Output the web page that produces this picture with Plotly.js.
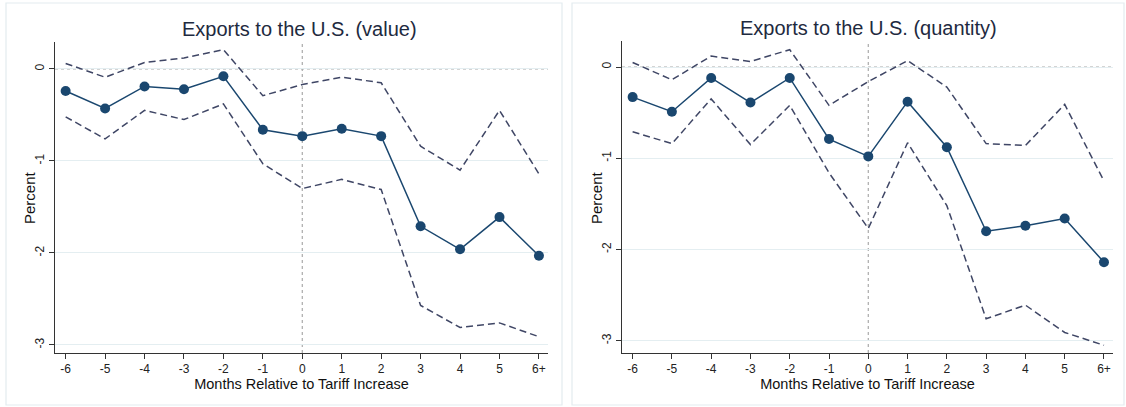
<!DOCTYPE html>
<html>
<head>
<meta charset="utf-8">
<script src="https://cdn.plot.ly/plotly-3.0.1.min.js"></script>
<style>
  html, body { margin: 0; padding: 0; background: #ffffff; }
  #chart { width: 1126px; height: 407px; }
</style>
</head>
<body>
<div id="chart"></div>
<script>
// Event-study months and their tick labels
const months = [-6, -5, -4, -3, -2, -1, 0, 1, 2, 3, 4, 5, 6];
const monthLabels = ["-6", "-5", "-4", "-3", "-2", "-1", "0", "1", "2", "3", "4", "5", "6+"];

// Exports to the U.S. (value): point estimates and 95% bands, percent
const valueEst   = [-0.24, -0.43, -0.19, -0.22, -0.08, -0.66, -0.73, -0.65, -0.73, -1.71, -1.96, -1.61, -2.03];
const valueUpper = [0.06, -0.09, 0.07, 0.12, 0.21, -0.29, -0.17, -0.09, -0.15, -0.84, -1.10, -0.45, -1.14];
const valueLower = [-0.52, -0.76, -0.45, -0.55, -0.38, -1.03, -1.30, -1.20, -1.31, -2.57, -2.81, -2.76, -2.91];

// Exports to the U.S. (quantity): point estimates and 95% bands, percent
const qtyEst   = [-0.33, -0.49, -0.12, -0.39, -0.12, -0.79, -0.98, -0.38, -0.88, -1.80, -1.74, -1.66, -2.14];
const qtyUpper = [0.05, -0.14, 0.12, 0.06, 0.19, -0.42, -0.16, 0.07, -0.22, -0.84, -0.86, -0.41, -1.25];
const qtyLower = [-0.71, -0.84, -0.35, -0.85, -0.42, -1.16, -1.77, -0.83, -1.52, -2.76, -2.61, -2.91, -3.05];

const yTicks = [-3, -2, -1, 0];
const yTickLabels = ["-3", "-2", "-1", "0"];

const navy = "#1a476f";
const bandColor = "#3f4665";
const font = "Liberation Sans, Arial, sans-serif";

function panel(est, upper, lower, xa, ya) {
  const band = (vals) => ({
    x: months, y: vals, xaxis: xa, yaxis: ya, type: "scatter", mode: "lines",
    line: { color: bandColor, width: 1.5, dash: "7px,4px" },
    hoverinfo: "skip", showlegend: false
  });
  return [
    band(upper),
    band(lower),
    {
      x: months, y: est, xaxis: xa, yaxis: ya, type: "scatter", mode: "lines+markers",
      line: { color: navy, width: 1.5 },
      marker: { color: navy, size: 10, symbol: "circle" },
      hoverinfo: "skip", showlegend: false
    }
  ];
}

const data = [].concat(
  panel(valueEst, valueUpper, valueLower, "x", "y"),
  panel(qtyEst, qtyUpper, qtyLower, "x2", "y2")
);

function xAxis(domain, anchor) {
  return {
    domain: domain, anchor: anchor, range: [-6.27, 6.23],
    tickmode: "array", tickvals: months, ticktext: monthLabels,
    ticks: "outside", ticklen: 5, tickcolor: "#333", tickwidth: 1,
    tickfont: { family: font, size: 12, color: "#222" },
    showline: true, linecolor: "#333", linewidth: 1,
    showgrid: false, zeroline: false,
    title: { text: "Months Relative to Tariff Increase", font: { family: font, size: 14.5, color: "#111" }, standoff: 0 }
  };
}

function yAxis(domain, anchor, range) {
  return {
    domain: domain, anchor: anchor, range: range,
    tickmode: "array", tickvals: yTicks, ticktext: yTickLabels, tickangle: -90,
    ticks: "outside", ticklen: 5, tickcolor: "#333", tickwidth: 1,
    tickfont: { family: font, size: 12, color: "#222" },
    showline: true, linecolor: "#333", linewidth: 1,
    showgrid: true, gridcolor: "#e4eef1", gridwidth: 1, zeroline: false
  };
}

function refLines(xa, ya) {
  return [
    { type: "line", xref: xa + " domain", yref: ya, x0: 0, x1: 1, y0: 0, y1: 0,
      line: { color: "#aaaaaa", width: 1.2, dash: "3px,3px" }, layer: "below" },
    { type: "line", xref: xa, yref: ya + " domain", x0: 0, x1: 0, y0: 0, y1: 1,
      line: { color: "#aaaaaa", width: 1.2, dash: "3px,3px" }, layer: "below" }
  ];
}

function frame(x0, x1) {
  return { type: "rect", xref: "paper", yref: "paper", x0: x0, x1: x1, y0: 2 / 407, y1: 404 / 407,
    line: { color: "#e3ebef", width: 1.2 }, fillcolor: "rgba(0,0,0,0)", layer: "below" };
}

// Vertical "Percent" label placed beside each panel's tick labels
function percentLabel(xPix, yPix) {
  return { text: "Percent", xref: "paper", yref: "paper", x: xPix / 1126, y: 1 - yPix / 407,
    xanchor: "center", yanchor: "middle", textangle: -90, showarrow: false,
    font: { family: font, size: 15, color: "#111" } };
}

const layout = {
  width: 1126, height: 407,
  margin: { l: 0, r: 0, t: 0, b: 0 },
  paper_bgcolor: "#ffffff", plot_bgcolor: "#ffffff",
  showlegend: false,
  xaxis: xAxis([55 / 1126, 548 / 1126], "y"),
  yaxis: yAxis([54 / 407, 365 / 407], "x", [-3.087, 0.293]),
  xaxis2: xAxis([622 / 1126, 1113 / 1126], "y2"),
  yaxis2: yAxis([54 / 407, 366 / 407], "x2", [-3.135, 0.285]),
  shapes: [].concat(
    refLines("x", "y"),
    refLines("x2", "y2"),
    [frame(6 / 1126, 562 / 1126), frame(572 / 1126, 1124 / 1126)]
  ),
  annotations: [
    { text: "Exports to the U.S. (value)", xref: "paper", yref: "paper", x: 299 / 1126, y: 1 - 29 / 407,
      xanchor: "center", yanchor: "middle", showarrow: false, font: { family: font, size: 20, color: "#1e2a40" } },
    { text: "Exports to the U.S. (quantity)", xref: "paper", yref: "paper", x: 868 / 1126, y: 1 - 28 / 407,
      xanchor: "center", yanchor: "middle", showarrow: false, font: { family: font, size: 20, color: "#1e2a40" } },
    percentLabel(29, 198),
    percentLabel(596, 198)
  ]
};

Plotly.newPlot("chart", data, layout, { displayModeBar: false, staticPlot: true });
</script>
</body>
</html>
